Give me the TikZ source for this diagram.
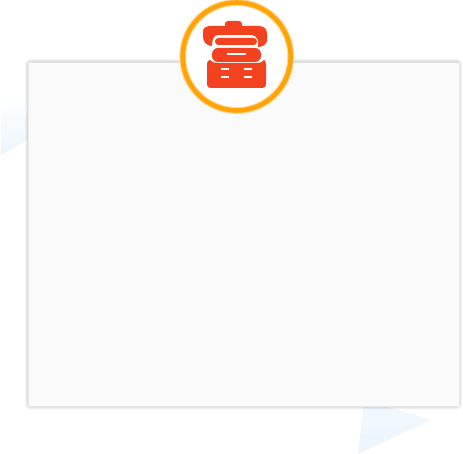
\documentclass[tikz,border=0pt]{standalone}
\usetikzlibrary{shadings}
\definecolor{iconred}{HTML}{F2421F}
\definecolor{ringorange}{HTML}{FFA306}
\definecolor{cardgray}{HTML}{FAFAFA}
\definecolor{paleblue}{HTML}{ECF5FD}
\tikzset{
  iconpart/.style={fill=iconred,draw=none},
  slot/.style={fill=white,draw=none},
  cardedge/.style={draw=black,opacity=0.025,line width=#1,fill=none,rounded corners=1.5pt},
}
\begin{document}
\begin{tikzpicture}[x=1pt,y=-1pt]
\useasboundingbox (0,0) rectangle (463,454);
\fill[white] (0,0) rectangle (463,454);
%triangles behind the card
\shade[top color=white,bottom color=paleblue,shading angle=0] (1,98) -- (40,98) -- (40,133) -- (1,155) -- cycle;
\shade[top color=paleblue!65,bottom color=paleblue,draw=none] (364,400) -- (431,420) -- (358,454) -- cycle;
%the card
\foreach \w in {1,2,3,4,5,6} \draw[cardedge=\w pt] (28,62) rectangle (459,406.5);
\fill[cardgray] (28,62) rectangle (459,406.5);
\draw[black!12,line width=.7pt] (28,62) -- (459,62);
\draw[black!9,line width=.7pt] (28,62) -- (28,406.5) -- (459,406.5) -- (459,62);
%the badge
\fill[white] (236.7,56.5) circle (54);
\draw[ringorange!40,line width=7pt] (236.7,56.5) circle (54);
\draw[ringorange,line width=4.6pt] (236.7,56.5) circle (54);
%handle and lid
\fill[iconpart,rounded corners=3pt] (225,29) -- (225,21) -- (242,21) -- (242,29) -- cycle;
\fill[iconpart] (209,26) -- (259,26) .. controls (264,26) and (267,29) .. (267,34)
  -- (267,41) .. controls (266,45) and (262,47) .. (258,47) .. controls (259,42) and (258,36) .. (252,35)
  -- (218,35) .. controls (213,35) and (212,41) .. (212,46) .. controls (206,46) and (203,41) .. (203,37)
  -- (203,32) .. controls (203,28) and (206,26) .. (209,26) -- cycle;
\fill[iconpart,rounded corners=3.4pt] (215,38) rectangle (257,45);
%tray with its slot
\fill[iconpart,rounded corners=6pt] (212,48) rectangle (261,62);
\fill[slot] (227,53) rectangle (246,55);
%box with its slots
\fill[iconpart] (210,60) .. controls (212,62) and (214,63) .. (217,63) -- (256,63)
  .. controls (260,63) and (263,62) .. (264,60) .. controls (265,60) and (266,62) .. (266,64)
  -- (266,84) .. controls (266,87) and (265,88) .. (262,88) -- (211,88)
  .. controls (208,88) and (207,87) .. (207,84) -- (207,64) .. controls (207,62) and (208,60) .. (210,60) -- cycle;
\foreach \x in {221,243.5} \foreach \y in {67.7,75.7} \fill[slot] (\x,\y) rectangle ++(8.3,2.8);
\end{tikzpicture}
\end{document}
